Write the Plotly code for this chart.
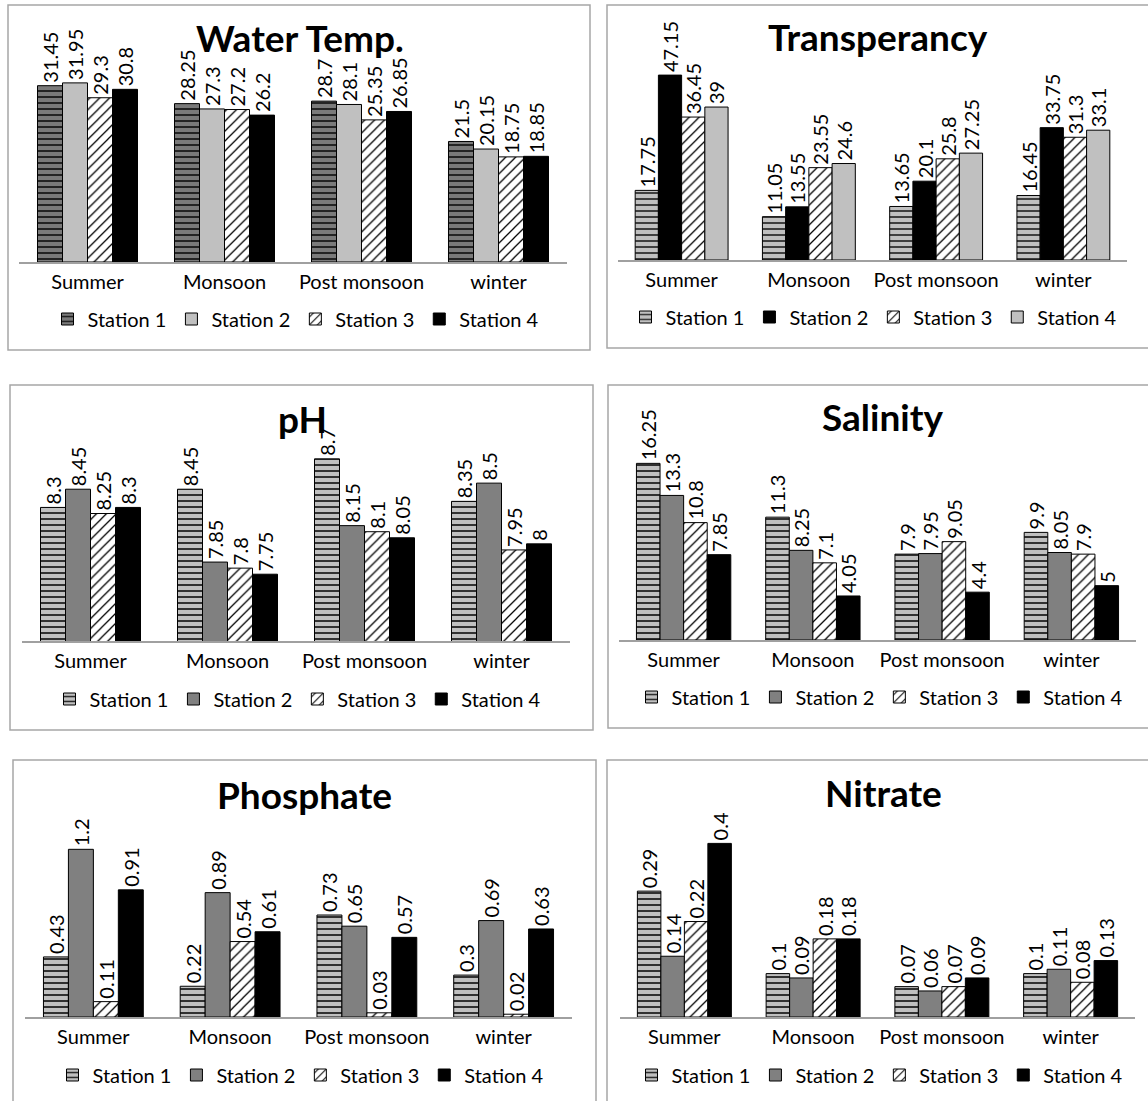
import plotly.graph_objects as go

W, H = 1148, 1101

seasons = ["Summer", "Monsoon", "Post monsoon", "winter"]
stations = ["Station 1", "Station 2", "Station 3", "Station 4"]

# Seasonal readings per station (order follows `seasons`)
water_temp_s1 = [31.45, 28.25, 28.7, 21.5]
water_temp_s2 = [31.95, 27.3, 28.1, 20.15]
water_temp_s3 = [29.3, 27.2, 25.35, 18.75]
water_temp_s4 = [30.8, 26.2, 26.85, 18.85]

transparency_s1 = [17.75, 11.05, 13.65, 16.45]
transparency_s2 = [47.15, 13.55, 20.1, 33.75]
transparency_s3 = [36.45, 23.55, 25.8, 31.3]
transparency_s4 = [39, 24.6, 27.25, 33.1]

ph_s1 = [8.3, 8.45, 8.7, 8.35]
ph_s2 = [8.45, 7.85, 8.15, 8.5]
ph_s3 = [8.25, 7.8, 8.1, 7.95]
ph_s4 = [8.3, 7.75, 8.05, 8]

salinity_s1 = [16.25, 11.3, 7.9, 9.9]
salinity_s2 = [13.3, 8.25, 7.95, 8.05]
salinity_s3 = [10.8, 7.1, 9.05, 7.9]
salinity_s4 = [7.85, 4.05, 4.4, 5]

phosphate_s1 = [0.43, 0.22, 0.73, 0.3]
phosphate_s2 = [1.2, 0.89, 0.65, 0.69]
phosphate_s3 = [0.11, 0.54, 0.03, 0.02]
phosphate_s4 = [0.91, 0.61, 0.57, 0.63]

nitrate_s1 = [0.29, 0.1, 0.07, 0.1]
nitrate_s2 = [0.14, 0.09, 0.06, 0.11]
nitrate_s3 = [0.22, 0.18, 0.07, 0.08]
nitrate_s4 = [0.4, 0.18, 0.09, 0.13]

FONT = "Lato, 'Liberation Sans', Arial, sans-serif"
OUTLINE = dict(color="#000000", width=1)


def px_x(x):
    return x / W


def px_y(y):
    return 1 - y / H


def solid(color):
    return dict(color=color, line=OUTLINE)


def stripes(bg, fg):
    return dict(color=bg, line=OUTLINE,
                pattern=dict(shape="-", bgcolor=bg, fgcolor=fg, size=6,
                             solidity=0.3, fillmode="replace"))


def hatch():
    return dict(color="#ffffff", line=OUTLINE,
                pattern=dict(shape="/", bgcolor="#ffffff", fgcolor="#000000",
                             size=7, solidity=0.18, fillmode="replace"))


std_styles = [stripes("#c0c0c0", "#202020"), solid("#808080"), hatch(), solid("#000000")]

panels = [
    dict(title="Water Temp.",
         series=[water_temp_s1, water_temp_s2, water_temp_s3, water_temp_s4],
         styles=[stripes("#7a7a7a", "#1a1a1a"), solid("#c0c0c0"), hatch(), solid("#000000")],
         box=(8, 5, 590, 350), plot=(19, 567), base=262, top=40, yrange=[0, 39.6],
         title_xy=(300, 38), legend_xy=(296, 319)),
    dict(title="Transperancy",
         series=[transparency_s1, transparency_s2, transparency_s3, transparency_s4],
         styles=[stripes("#c0c0c0", "#303030"), solid("#000000"), hatch(), solid("#c0c0c0")],
         box=(607, 5, 1150, 348), plot=(618, 1127), base=260, top=40, yrange=[0, 56.1],
         title_xy=(878, 37), legend_xy=(874, 317)),
    dict(title="pH",
         series=[ph_s1, ph_s2, ph_s3, ph_s4],
         styles=std_styles,
         box=(10, 385, 593, 730), plot=(22, 570), base=641, top=420, yrange=[7.2, 9.02],
         title_xy=(302, 418), legend_xy=(298, 699)),
    dict(title="Salinity",
         series=[salinity_s1, salinity_s2, salinity_s3, salinity_s4],
         styles=std_styles,
         box=(608, 385, 1150, 728), plot=(619, 1136), base=640, top=420, yrange=[0, 20.24],
         title_xy=(882, 416), legend_xy=(880, 697)),
    dict(title="Phosphate",
         series=[phosphate_s1, phosphate_s2, phosphate_s3, phosphate_s4],
         styles=std_styles,
         box=(13, 760, 596, 1104), plot=(25, 572), base=1017, top=800, yrange=[0, 1.553],
         title_xy=(304, 794), legend_xy=(301, 1075)),
    dict(title="Nitrate",
         series=[nitrate_s1, nitrate_s2, nitrate_s3, nitrate_s4],
         styles=std_styles,
         box=(607, 760, 1150, 1104), plot=(620, 1135), base=1017, top=800, yrange=[0, 0.5],
         title_xy=(883, 792), legend_xy=(880, 1075)),
]

fig = go.Figure()
layout = dict(
    width=W, height=H, margin=dict(l=0, r=0, t=0, b=0),
    paper_bgcolor="#ffffff", plot_bgcolor="rgba(0,0,0,0)",
    barmode="group", bargap=0.27, bargroupgap=0,
    font=dict(family=FONT, color="#000000", size=20),
    shapes=[], annotations=[],
)

for i, p in enumerate(panels):
    n = i + 1
    suffix = "" if n == 1 else str(n)
    xa, ya = f"x{suffix}", f"y{suffix}"
    legend_id = "legend" if n == 1 else f"legend{n}"

    for name, vals, style in zip(stations, p["series"], p["styles"]):
        fig.add_trace(go.Bar(
            x=seasons, y=vals, name=name,
            xaxis=xa, yaxis=ya, legend=legend_id,
            marker=style,
            text=[f"{v:g}" for v in vals], texttemplate="%{text}",
            textposition="outside", textangle=-90, constraintext="none",
            textfont=dict(family=FONT, size=20, color="#000000"),
            cliponaxis=False, hoverinfo="skip",
        ))

    x0, x1 = p["plot"]
    layout[f"xaxis{suffix}"] = dict(
        domain=[px_x(x0), px_x(x1)], anchor=ya, type="category",
        showline=True, linecolor="#a0a0a0", linewidth=1.5,
        showgrid=False, zeroline=False, ticks="",
        tickfont=dict(family=FONT, size=20, color="#000000"),
        ticklabelstandoff=1, fixedrange=True,
    )
    layout[f"yaxis{suffix}"] = dict(
        domain=[px_y(p["base"]), px_y(p["top"])], anchor=xa,
        range=p["yrange"], visible=False, showgrid=False, zeroline=False,
        fixedrange=True,
    )

    lx, ly = p["legend_xy"]
    layout[legend_id] = dict(
        orientation="h", x=px_x(lx), xanchor="center", y=px_y(ly), yanchor="middle",
        bgcolor="rgba(0,0,0,0)", font=dict(family=FONT, size=20, color="#000000"),
        itemclick=False, itemdoubleclick=False, traceorder="normal",
    )

    bx0, by0, bx1, by1 = p["box"]
    layout["shapes"].append(dict(
        type="rect", xref="paper", yref="paper",
        x0=px_x(bx0), x1=px_x(bx1), y0=px_y(by1), y1=px_y(by0),
        line=dict(color="#a6a6a6", width=1.5), fillcolor="rgba(0,0,0,0)", layer="below",
    ))

    tx, ty = p["title_xy"]
    layout["annotations"].append(dict(
        text=f"<b>{p['title']}</b>", xref="paper", yref="paper",
        x=px_x(tx), y=px_y(ty), xanchor="center", yanchor="middle",
        showarrow=False, font=dict(family=FONT, size=37, color="#000000"),
    ))

fig.update_layout(**layout)
fig.write_html("out.html")
